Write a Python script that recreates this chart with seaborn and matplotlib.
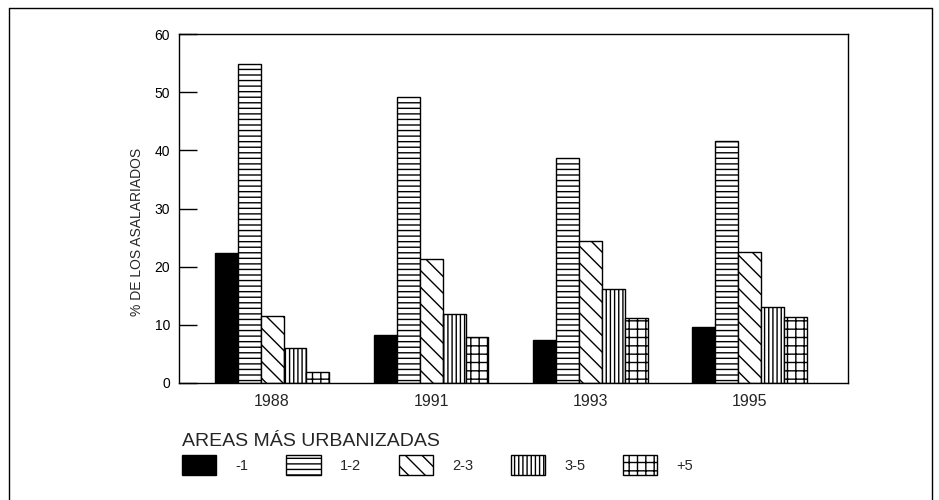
import matplotlib
matplotlib.use("Agg")
import matplotlib.pyplot as plt
import matplotlib.patches as mpatches
from matplotlib.lines import Line2D
import seaborn as sns
import pandas as pd
from matplotlib import font_manager

years = ["1988", "1991", "1993", "1995"]
areas = ["-1", "1-2", "2-3", "3-5", "+5"]
v_m1 = [22.3, 8.2, 7.4, 9.6]
v_12 = [54.8, 49.1, 38.7, 41.6]
v_23 = [11.5, 21.4, 24.4, 22.6]
v_35 = [6.0, 11.8, 16.1, 13.1]
v_p5 = [1.9, 7.9, 11.2, 11.3]
ytick_vals = [0, 10, 20, 30, 40, 50, 60]
ylabel = "% DE LOS ASALARIADOS"
legend_title = "AREAS MÁS URBANIZADAS"

series = [v_m1, v_12, v_23, v_35, v_p5]
rows = []
for a, vals in zip(areas, series):
    for y, v in zip(years, vals):
        rows.append({"year": y, "area": a, "value": v})
df = pd.DataFrame(rows)

fills = ["black", "white", "white", "white", "white"]
hatches = [None, "---", "\\\\", "||||", "++"]

sns.set_style("white")
names = {f.name for f in font_manager.fontManager.ttflist}
base = "Liberation Sans" if "Liberation Sans" in names else "DejaVu Sans"
narrow = "Liberation Sans Narrow" if "Liberation Sans Narrow" in names else base
plt.rcParams["font.family"] = [base, "DejaVu Sans"]
plt.rcParams["hatch.linewidth"] = 1.0

fig = plt.figure(figsize=(9.39, 5.0), dpi=100)
ax = fig.add_axes([179/939, 1-383/500, (848-179)/939, (383-34)/500])

sns.barplot(data=df, x="year", y="value", hue="area", hue_order=areas,
            order=years, palette=fills, width=0.72, gap=0,
            edgecolor="black", linewidth=1.0, ax=ax, legend=False,
            saturation=1, errorbar=None)

for cont, h in zip(ax.containers, hatches):
    for p in cont.patches:
        if h:
            p.set_hatch(h)
        p.set_edgecolor("black")

ax.set_ylim(0, 60)
ax.set_xlim(-0.585, 3.62)
ax.set_yticks(ytick_vals)
ax.tick_params(axis="y", direction="in", length=13, width=1, pad=6.5,
               labelsize=10, colors="black", left=True)
ax.tick_params(axis="x", length=0, pad=8, labelsize=11.5)
ax.set_xlabel("")
ax.set_ylabel(ylabel, fontsize=10, family=narrow)
ax.yaxis.set_label_coords((144-179)/669, (383-232)/349)
for s in ax.spines.values():
    s.set_visible(True)
    s.set_color("black")
    s.set_linewidth(1.0)

handles = [mpatches.Rectangle((0, 0), 1, 1, facecolor=f, edgecolor="black",
                              hatch=h, linewidth=1.0) for f, h in zip(fills, hatches)]
leg = fig.legend(handles, areas, loc="upper left", bbox_to_anchor=(172/939, 1-423/500),
                 ncol=5, frameon=False, title=legend_title, alignment="left",
                 fontsize=10.5, title_fontsize=14, handlelength=2.35,
                 handleheight=1.8, handletextpad=1.3, columnspacing=2.6,
                 borderpad=0.2, labelspacing=0.3)

# outer frame
fig.add_artist(Line2D([9/939, 9/939], [0, 1-8/500], color="black", lw=1.0))
fig.add_artist(Line2D([9/939, 932/939], [1-8/500, 1-8/500], color="black", lw=1.0))
fig.add_artist(Line2D([932/939, 932/939], [0, 1-8/500], color="black", lw=1.0))

fig.savefig("out.png", dpi=100)
